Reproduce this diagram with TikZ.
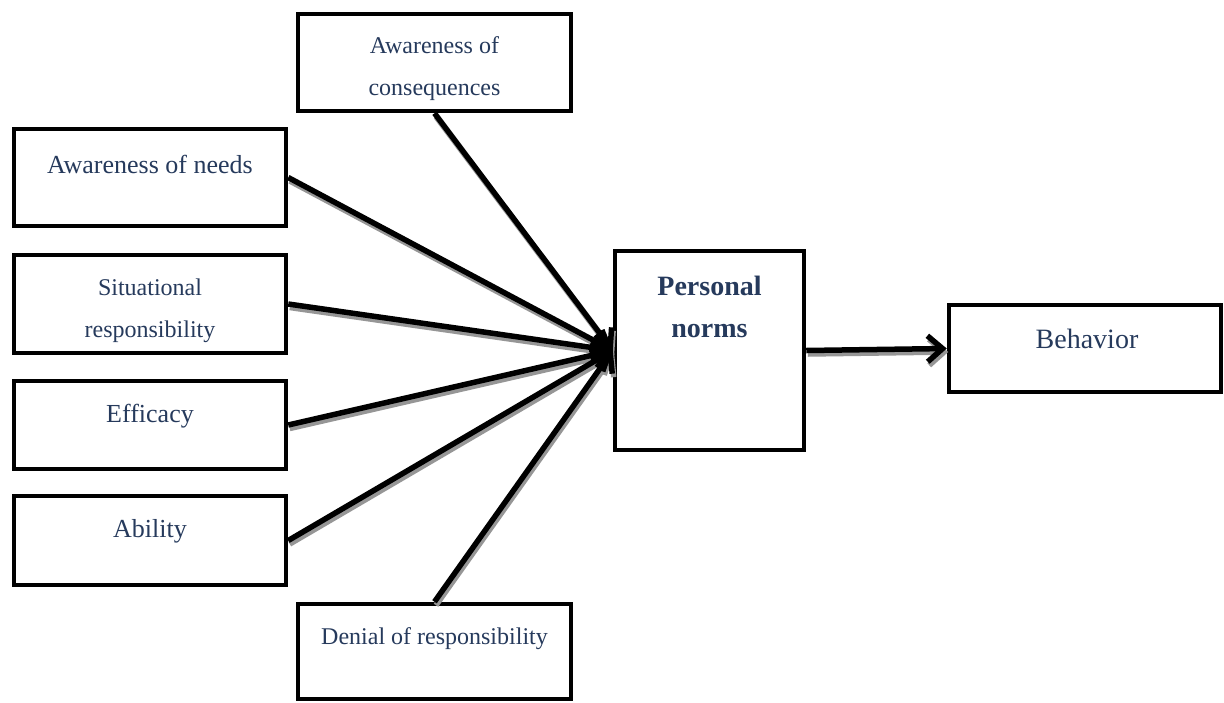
\documentclass[tikz,border=0pt]{standalone}
\usepackage{fontspec}
\setmainfont{Liberation Serif}
\usetikzlibrary{arrows.meta}
\definecolor{labelblue}{RGB}{38,58,92}
\definecolor{shadowgrey}{RGB}{150,150,150}
\begin{document}
\begin{tikzpicture}[x=1pt,y=-1pt,
  box/.style={draw=black,line width=4.5pt,fill=white,inner sep=0pt},
  lbl/.style={text=labelblue,align=center,inner sep=0pt},
  big/.style={font=\fontsize{26}{42}\selectfont},
  small/.style={font=\fontsize{24}{42}\selectfont},
  head/.style={font=\fontsize{28}{42}\selectfont\bfseries},
  link/.style={line width=5.5pt,-{Straight Barb[length=15pt,width=26pt]}},
  linkshadow/.style={link,draw=shadowgrey,transform canvas={shift={(1.5pt,-3.5pt)}}}]
\useasboundingbox (0,0) rectangle (1224,702);
\fill[white] (0,0) rectangle (1224,702);

% boxes
\node[box,minimum width=273pt,minimum height=97pt] (aoc) at (434.5,62.5) {};
\node[box,minimum width=272pt,minimum height=97pt] (aon) at (150,177.5) {};
\node[box,minimum width=272pt,minimum height=98pt] (sr)  at (150,304) {};
\node[box,minimum width=272pt,minimum height=88pt] (eff) at (150,425) {};
\node[box,minimum width=272pt,minimum height=89pt] (abl) at (150,540.5) {};
\node[box,minimum width=273pt,minimum height=95pt] (dor) at (434.5,651.5) {};
\node[box,minimum width=189pt,minimum height=199pt] (pn) at (709.5,350.5) {};
\node[box,minimum width=272pt,minimum height=87pt] (beh) at (1085,348.5) {};

% labels
\node[lbl,small] (aoct) at (434.5,69) {Awareness of\\consequences};
\node[lbl,big]   (aont) at (150,164) {Awareness of needs};
\node[lbl,small] (srt)  at (150,310.5) {Situational\\responsibility};
\node[lbl,big]   (efft) at (150,416) {Efficacy};
\node[lbl,big]   (ablt) at (150,531) {Ability};
\node[lbl,small] (dort) at (434.5,639) {Denial of responsibility};
\node[lbl,head]  (pnt)  at (709.5,307) {Personal\\norms};
\node[lbl,head,font=\fontsize{28}{42}\selectfont] (beht) at (1087,339) {Behavior};

% connector shadows
\foreach \src in {aon.east,sr.east,eff.east,abl.east,aoc.south,dor.north}
  \draw[linkshadow] (\src) -- (pn.west);
\draw[linkshadow] (pn.east) -- (beh.west);

% connectors
\foreach \src in {aon.east,sr.east,eff.east,abl.east,aoc.south,dor.north}
  \draw[link] (\src) -- (pn.west);
\draw[link] (pn.east) -- (beh.west);
\end{tikzpicture}
\end{document}
